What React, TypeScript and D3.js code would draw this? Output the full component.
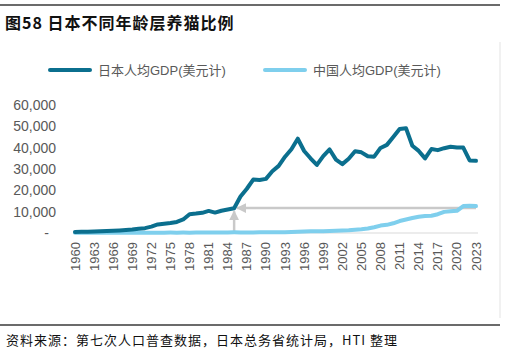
import React, { useRef, useEffect } from "react";
import * as d3 from "d3";

const years = d3.range(1960, 2024);

// 日本人均GDP (USD)
const japanGdp = [
  475, 563, 633, 718, 835, 919, 1058, 1228, 1450, 1669,
  2037, 2272, 2967, 3997, 4354, 4659, 5197, 6335, 8821, 9105,
  9463, 10361, 9578, 10425, 10984, 11585, 17112, 20745, 25051, 24813,
  25371, 28925, 31465, 35766, 39269, 44198, 38437, 35022, 31903, 36027,
  39169, 34406, 32289, 34808, 38299, 37813, 35991, 35779, 39877, 41309,
  44968, 48760, 49145, 40898, 38475, 34961, 39375, 38834, 39751, 40416,
  40040, 40059, 34017, 33834,
];

// 中国人均GDP (USD)
const chinaGdp = [
  90, 76, 71, 75, 85, 98, 104, 97, 91, 100,
  113, 119, 132, 157, 160, 178, 165, 185, 156, 184,
  195, 197, 203, 225, 250, 294, 282, 252, 284, 311,
  318, 334, 367, 377, 473, 610, 709, 782, 829, 873,
  959, 1053, 1149, 1289, 1509, 1753, 2099, 2694, 3468, 3832,
  4550, 5614, 6301, 7020, 7636, 8016, 8094, 8817, 9905, 10144,
  10409, 12618, 12720, 12614,
];

const yTicks = [0, 10000, 20000, 30000, 40000, 50000, 60000];
const xTicks = d3.range(1960, 2024, 3);
const seriesNames = ["日本人均GDP(美元计)", "中国人均GDP(美元计)"];
const compareYear = 1985;

const JAPAN = "#0b6f8e";
const CHINA = "#7fcfed";
const GREY = "#595959";
const ARROW = "#c9c9c9";

const App = () => {
  const ref = useRef<SVGSVGElement>(null);

  useEffect(() => {
    const width = 510;
    const height = 353;
    const svg = d3.select(ref.current).attr("width", width).attr("height", height);
    svg.selectAll("*").remove();

    const x = d3.scaleLinear().domain([1960, 2023]).range([75, 476]);
    const y = d3.scaleLinear().domain([0, 60000]).range([233, 105]);

    // frame lines
    svg.append("line").attr("x1", 0).attr("x2", 500).attr("y1", 5).attr("y2", 5)
      .attr("stroke", "#3a3a3a").attr("stroke-width", 1.5);
    svg.append("line").attr("x1", 0).attr("x2", 500).attr("y1", 325).attr("y2", 325)
      .attr("stroke", "#3a3a3a").attr("stroke-width", 1.5);
    svg.append("line").attr("x1", 500).attr("x2", 500).attr("y1", 42).attr("y2", 318)
      .attr("stroke", "#e3e3e3").attr("stroke-width", 1);

    // title
    svg.append("text").attr("x", 5).attr("y", 29)
      .style("font-family", "'Noto Sans CJK SC', sans-serif")
      .style("font-size", "16px").style("font-weight", "bold")
      .style("letter-spacing", "1px").attr("fill", "#111")
      .text("图58 日本不同年龄层养猫比例");

    // legend
    const legend = svg.append("g");
    [JAPAN, CHINA].forEach((c, i) => {
      const lx = i === 0 ? 50 : 265;
      legend.append("line").attr("x1", lx).attr("x2", lx + 40).attr("y1", 70).attr("y2", 70)
        .attr("stroke", c).attr("stroke-width", 4).attr("stroke-linecap", "round");
      legend.append("text").attr("x", lx + 48).attr("y", 75)
        .style("font-family", "'Liberation Sans', 'Noto Sans CJK SC', sans-serif")
        .style("font-size", "13px").attr("fill", GREY)
        .text(seriesNames[i]);
    });

    // y axis labels
    const fmt = d3.format(",");
    svg.append("g").selectAll("text").data(yTicks).enter().append("text")
      .attr("x", (d) => (d === 0 ? 49 : 56))
      .attr("y", (d) => y(d) + 5)
      .attr("text-anchor", "end")
      .style("font-family", "'Liberation Sans', Arial, sans-serif")
      .style("font-size", "14px").attr("fill", GREY)
      .text((d) => (d === 0 ? "-" : fmt(d)));

    // baseline
    svg.append("line").attr("x1", x(1960)).attr("x2", x(2023) + 2)
      .attr("y1", y(0)).attr("y2", y(0)).attr("stroke", "#d9d9d9").attr("stroke-width", 1);

    // x axis labels (rotated)
    svg.append("g").selectAll("text").data(xTicks).enter().append("text")
      .attr("transform", (d) => `translate(${x(d) + 4.5},242) rotate(-90)`)
      .attr("text-anchor", "end")
      .style("font-family", "'Liberation Sans', Arial, sans-serif")
      .style("font-size", "13px").attr("fill", GREY)
      .text((d) => d);

    // annotation arrows
    const defs = svg.append("defs");
    defs.append("marker").attr("id", "arr").attr("viewBox", "0 0 10 10")
      .attr("refX", 9).attr("refY", 5).attr("markerWidth", 4).attr("markerHeight", 4)
      .attr("orient", "auto-start-reverse").attr("markerUnits", "strokeWidth")
      .append("path").attr("d", "M0,0 L10,5 L0,10 z").attr("fill", ARROW);

    const jp85 = japanGdp[years.indexOf(compareYear)];
    const cn23 = chinaGdp[chinaGdp.length - 1];
    svg.append("line").attr("x1", x(2023)).attr("x2", x(compareYear) + 3)
      .attr("y1", y(cn23) + 2).attr("y2", y(cn23) + 2)
      .attr("stroke", ARROW).attr("stroke-width", 2.5).attr("marker-end", "url(#arr)");
    svg.append("line").attr("x1", x(compareYear)).attr("x2", x(compareYear))
      .attr("y1", y(0)).attr("y2", y(jp85) + 3)
      .attr("stroke", ARROW).attr("stroke-width", 2.5).attr("marker-end", "url(#arr)");

    // series lines
    const line = d3.line<number>().x((d, i) => x(years[i])).y((d) => y(d));
    svg.append("path").datum(chinaGdp).attr("d", line).attr("fill", "none")
      .attr("stroke", CHINA).attr("stroke-width", 4)
      .attr("stroke-linecap", "round").attr("stroke-linejoin", "round");
    svg.append("path").datum(japanGdp).attr("d", line).attr("fill", "none")
      .attr("stroke", JAPAN).attr("stroke-width", 4)
      .attr("stroke-linecap", "round").attr("stroke-linejoin", "round");

    // source
    svg.append("text").attr("x", 6).attr("y", 345)
      .style("font-family", "'Noto Sans CJK SC', sans-serif")
      .style("font-size", "13px").style("letter-spacing", "1px").attr("fill", "#111")
      .text("资料来源：第七次人口普查数据，日本总务省统计局，HTI 整理");
  }, []);

  return <svg ref={ref} style={{ position: "absolute", left: 0, top: 0 }}></svg>;
};

export default App;
